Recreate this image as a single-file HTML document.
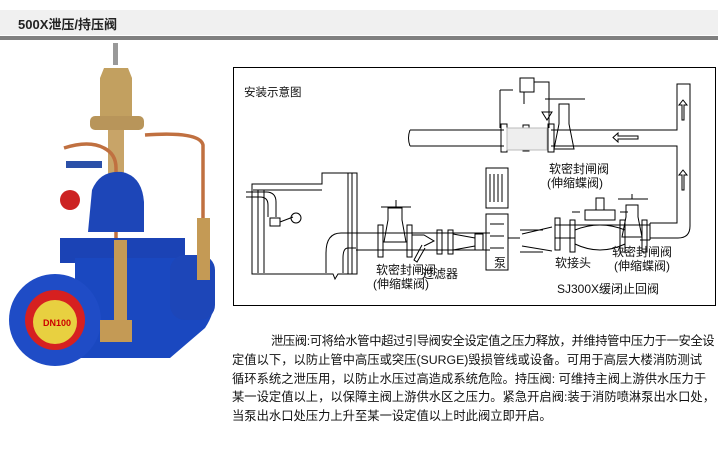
<!DOCTYPE html>
<html><head><meta charset="utf-8">
<style>
body{margin:0;width:718px;height:450px;background:#fff;overflow:hidden;position:relative;font-family:"Liberation Sans","Noto Sans CJK SC",sans-serif}
.hdr{position:absolute;left:0;top:10px;width:718px;height:25px;background:#f0f0f0}
.hdr span{position:absolute;left:18px;top:4px;font-size:13px;font-weight:bold;color:#222}
.bar{position:absolute;left:0;top:36px;width:718px;height:4px;background:#808080}
.txt{position:absolute;left:232px;top:332px;width:490px;font-size:12.3px;line-height:18.8px;color:#111;font-family:"Liberation Sans","WenQuanYi Zen Hei",sans-serif;white-space:nowrap}
.l1{display:inline-block;padding-left:39px;letter-spacing:-0.4px}
svg{position:absolute;left:0;top:0}
</style></head><body>
<div class="hdr"><span>500X泄压/持压阀</span></div>
<div class="bar"></div>
<svg width="718" height="450" viewBox="0 0 718 450">
<rect x="113" y="43" width="5" height="22" fill="#999"/>
<path d="M104 68 h24 l4 10 v38 h-32 v-38z" fill="#c2a060"/>
<rect x="90" y="116" width="54" height="14" rx="5" fill="#b8955a"/>
<rect x="108" y="130" width="16" height="45" fill="#c8a468"/>
<path d="M64 148 q25 -8 40 0 q12 6 12 20 v75" stroke="#c07040" stroke-width="3.5" fill="none"/>
<path d="M145 135 q55 -4 58 10 v75" stroke="#c07040" stroke-width="3.5" fill="none"/>
<rect x="66" y="161" width="36" height="7" fill="#2b50a8"/>
<circle cx="70" cy="200" r="10" fill="#c22"/>
<path d="M92 190 q8 -20 30 -18 q20 4 22 30 v30 h-56z" fill="#1d46b8"/>
<path d="M60 238 h125 v25 h-125z" fill="#1b43b5"/>
<path d="M75 258 h130 q20 40 0 70 l-35 30 h-95z" fill="#1a48c0"/>
<circle cx="55" cy="320" r="46" fill="#1f4cc6"/>
<circle cx="55" cy="320" r="30" fill="#d62020"/>
<circle cx="55" cy="322" r="22" fill="#e8d040"/>
<text x="43" y="326" font-size="9" font-weight="bold" fill="#c00">DN100</text>
<rect x="170" y="255" width="45" height="65" rx="15" fill="#1d46b8"/>
<rect x="114" y="240" width="13" height="80" fill="#c49a55"/>
<rect x="197" y="218" width="13" height="62" fill="#c49a55"/>
<rect x="100" y="320" width="32" height="22" fill="#c49a55"/>
<rect x="233.5" y="67.5" width="482" height="238" fill="#fff" stroke="#000" stroke-width="1"/>
<text x="244" y="96" font-size="11.5" fill="#111">安装示意图</text>
<g stroke="#000" fill="none" stroke-width="1">
<path d="M410 130 H504 M410 146 H504 M551 130 H677 V84 H690 V226 q0 12 -12 12 H650 M551 146 H677 V223 H650"/>
<path d="M410 130 q-3 8 0 16"/>
<rect x="501" y="124" width="6" height="28"/><rect x="548" y="124" width="6" height="28"/>
<rect x="523" y="125" width="6" height="26"/>
<path d="M507 128 h40 v22 h-40z" fill="#eee" stroke="#bbb"/>
<path d="M559 104 h10 v20 l5 25 h-20 l5 -25z"/>
<path d="M545 99 h40"/>
<path d="M500 90 V128 M500 90 H513 M520 78 h14 v14 h-14z M534 82 H549 V128 M524 92 v12 M542 112 l5 8 l5 -8z"/>
<path d="M682 120 v-15 h-3 l4 -5 l4 5 h-3 v15z"/>
<path d="M682 190 v-15 h-3 l4 -5 l4 5 h-3 v15z"/>
<path d="M618 136 h20 v3 h-20 v3 l-5 -4.5 l5 -4.5z"/>
<path d="M252 184 H322 V173 H357 V274 H338 l-3 5 l-2 -5 H252 z"/>
<path d="M258 190 V273 M264 190 V273 M352 173 V274 M348 173 V274 M253 190 H322"/>
<path d="M246 192 h20 q10 0 10 10 v15 M246 197 h14 q8 0 8 8 v12"/>
<path d="M270 218 h10 v8 h-10z M280 222 l13 -5"/><circle cx="296" cy="218" r="5"/>
<path d="M356 233 h-15 q-15 0 -15 20 v20 M356 248 h-8 q-5 0 -5 10 v15"/>
<path d="M356 233 H380 M356 250 H380 M380 233 H490 M380 250 H490 M520 230 H543 M520 252 H543 M555 225 H650 M555 238 H575 M640 240 H650 M650 223 V240"/>
<rect x="378" y="225" width="5" height="32"/><rect x="407" y="225" width="5" height="32"/>
<path d="M388 208 h14 v12 l4 22 h-22 l4 -22z M381 207 h30 M396 207 v-7"/>
<path d="M412 235 l12 0 l10 6 l-10 5 M422 245 l-8 15 l3 2 l8 -14"/>
<rect x="437" y="230" width="5" height="24"/><rect x="448" y="230" width="5" height="24"/>
<path d="M453 234 L475 238 M453 250 L475 246"/><rect x="475" y="234" width="8" height="16"/>
<rect x="486" y="168" width="22" height="40"/><rect x="486" y="214" width="22" height="56"/>
<path d="M490 174 v28 M494 174 v28 M498 174 v28 M502 174 v28 M486 208 h22 M490 224 h14 M490 236 h14 M490 248 h14"/>
<path d="M508 238 h12 M522 234 l30 -7 M522 246 l30 5"/>
<rect x="555" y="218" width="5" height="32"/><rect x="570" y="220" width="5" height="32"/>
<path d="M575 230 q25 -10 50 0 v14 q-25 12 -50 0z"/>
<path d="M585 210 h30 v10 h-30z M596 198 h8 v12 h-8z M580 212 h-8 M620 212 h8"/>
<path d="M626 205 h12 v12 l4 20 h-20 l4 -20z M618 199 h30 M632 199 v-5"/>
<rect x="620" y="220" width="5" height="32"/><rect x="642" y="220" width="5" height="32"/>
</g>
<g font-size="12" fill="#111" font-family="Liberation Sans,WenQuanYi Zen Hei,sans-serif">
<text x="549" y="173">软密封闸阀</text><text x="547" y="187">(伸缩蝶阀)</text>
<text x="376" y="274">软密封闸阀</text><text x="373" y="288">(伸缩蝶阀)</text>
<text x="422" y="278">过滤器</text>
<text x="494" y="267">泵</text>
<text x="555" y="267">软接头</text>
<text x="612" y="256">软密封闸阀</text><text x="614" y="270">(伸缩蝶阀)</text>
<text x="557" y="293">SJ300X缓闭止回阀</text>
</g>
</svg>
<div class="txt"><span class="l1">泄压阀:可将给水管中超过引导阀安全设定值之压力释放，并维持管中压力于一安全设</span><br>定值以下，以防止管中高压或突压(SURGE)毁损管线或设备。可用于高层大楼消防测试<br>循环系统之泄压用，以防止水压过高造成系统危险。持压阀: 可维持主阀上游供水压力于<br>某一设定值以上，以保障主阀上游供水区之压力。紧急开启阀:装于消防喷淋泵出水口处，<br>当泵出水口处压力上升至某一设定值以上时此阀立即开启。</div>
</body></html>
